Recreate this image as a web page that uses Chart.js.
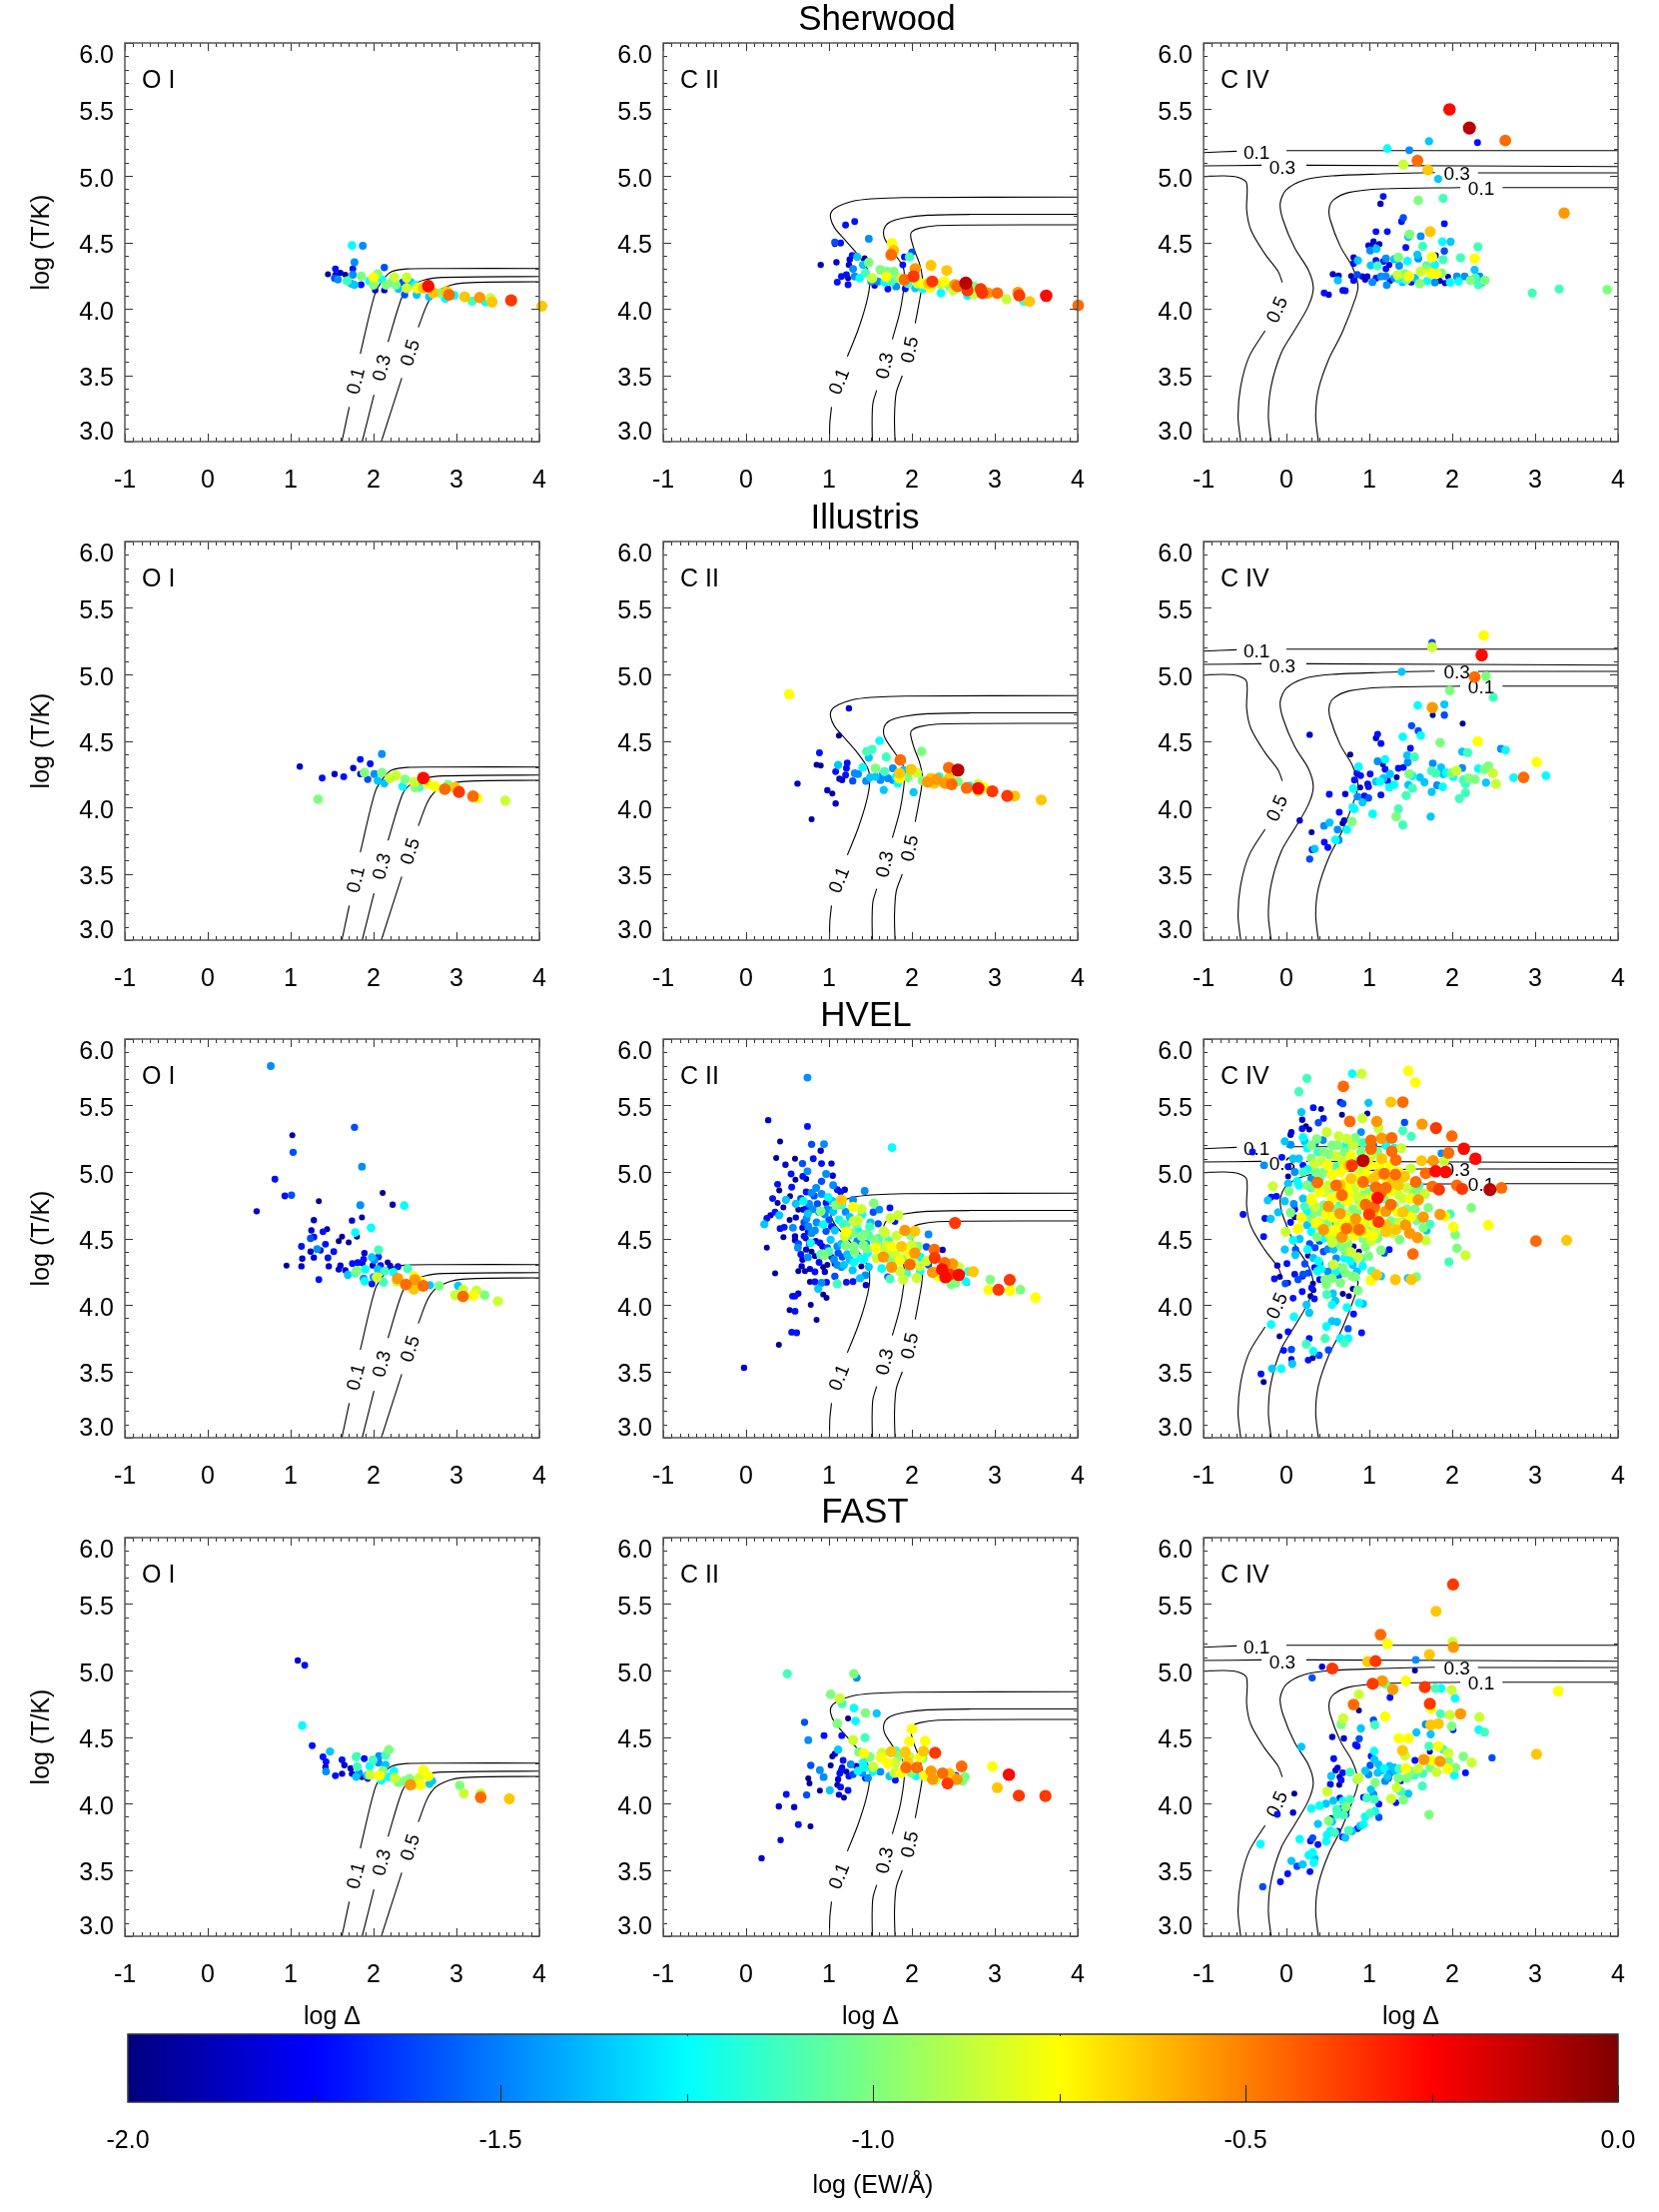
<!DOCTYPE html>
<html lang="en">
<head>
  <meta charset="UTF-8">
  <title>log T vs log overdensity</title>
  <script src="https://cdn.jsdelivr.net/npm/chart.js"></script>
<style>
  html, body { margin: 0; padding: 0; background: #fff; }
  #page { position: relative; width: 1661px; height: 2214px; overflow: hidden; font-family: 'Liberation Sans', Arial, sans-serif; color: #000; }
  canvas { position: absolute; }
  .rowTitle { position: absolute; font-size: 35px; line-height: 40px; transform: translate(-50%, -50%); white-space: nowrap; }
</style>
</head>
<body>
<div id="page"></div>
<script>
// colour classes (log EW)
const NV=-1.95,DB=-1.85,BL=-1.72,MB=-1.6,AZ=-1.47,SK=-1.36,CY=-1.25,MT=-1.12,LG=-1.0,YG=-.85,YE=-.75,GD=-.64,OR=-.55,DO=-.46,RO=-.36,RD=-.27,DR=-.12;

const rowNames = ['Sherwood','Illustris','HVEL','FAST'];
const rowTitleX = [878,866,867,866];
const rowTitleY = [18,517,1015,1512];
const ionNames = ['O I','C II','C IV'];
const xTicks = [-1,0,1,2,3,4];
const yLabelSpots = [3.1,3.5,4,4.5,5,5.5,5.93];
const yTickLabels = ['3.0','3.5','4.0','4.5','5.0','5.5','6.0'];
const barTicks = [-2,-1.5,-1,-.5,0];
const barMinor = [-1.75,-1.25,-.75,-.25];
// jet colour table of the bar: log EW, r, g, b
const jetStops = [[-2,0,0,127],[-1.75,0,0,255],[-1.5,0,127,255],[-1.25,0,255,255],[-1,127,255,127],[-.75,255,255,0],[-.5,255,127,0],[-.25,255,0,0],[0,127,0,0]];

// contours: each one is a list of line pieces, broken where the label sits
const contourOI = [
  [[[1.618,3],[1.707,3.26]],[[1.84,3.66],[2.02,4.118],[2.13,4.23],[2.22,4.28],[2.4,4.3],[2.84,4.303],[4,4.303]]],
  [[[1.863,3],[2.005,3.353]],[[2.175,3.75],[2.344,4.09],[2.44,4.168],[2.62,4.218],[2.84,4.236],[4,4.243]]],
  [[[2.094,3],[2.34,3.479]],[[2.54,3.86],[2.664,4.055],[2.798,4.143],[3.065,4.193],[4,4.203]]]
];
const contourLabelsOI = [['0.1',1.796,3.454,-76],['0.3',2.108,3.554,-76],['0.5',2.45,3.667,-73]];

const contourCII = [
  [[[1.006,3],[1.01,3.14],[1.03,3.26]],[[1.222,3.64],[1.35,3.84],[1.45,4.04],[1.49,4.18],[1.47,4.29],[1.33,4.42],[1.19,4.52],[1.07,4.606],[1.02,4.68],[1.03,4.73],[1.11,4.77],[1.27,4.807],[1.51,4.827],[1.91,4.837],[4,4.84]]],
  [[[1.523,3],[1.52,3.165],[1.53,3.29],[1.575,3.386]],[[1.764,3.77],[1.852,3.967],[1.9,4.143],[1.91,4.24],[1.892,4.318],[1.77,4.43],[1.67,4.53],[1.664,4.6],[1.73,4.65],[1.91,4.684],[2.19,4.704],[2.71,4.71],[4,4.71]]],
  [[[1.796,3],[1.79,3.19],[1.81,3.366],[1.884,3.496]],[[2.04,3.89],[2.09,4.055],[2.12,4.168],[2.125,4.243],[2.09,4.343],[2.03,4.44],[1.985,4.544],[2,4.58],[2.09,4.606],[2.31,4.626],[2.71,4.63],[4,4.632]]]
];
const contourLabelsCII = [['0.1',1.13,3.45,-68],['0.3',1.683,3.57,-78],['0.5',1.984,3.69,-78]];

const contourCIV = [
  [[[-1,5.175],[-.6,5.185]],[[.0,5.19],[4,5.19]]],
  [[[-1,5.075],[-.3,5.08]],[[.24,5.08],[4,5.07]]],
  [[[-.552,3],[-.584,3.19],[-.552,3.416],[-.45,3.64],[-.258,3.835]],[[-.05,4.198],[-.1,4.28],[-.266,4.418],[-.43,4.594],[-.48,4.744],[-.48,4.945],[-.575,4.987],[-.755,5],[-1,4.995]]],
  [[[-.185,3],[-.218,3.19],[-.185,3.416],[-.063,3.667],[.1,3.84],[.263,4.018],[.324,4.155],[.263,4.293],[.1,4.456],[-.042,4.669],[-.075,4.794],[-.002,4.895],[.222,4.97],[.548,5],[1.16,5.015],[1.79,5.025]],[[2.31,5.022],[4,5.022]]],
  [[[.385,3],[.353,3.19],[.385,3.39],[.508,3.617],[.67,3.817],[.84,4.093],[.862,4.18],[.793,4.318],[.65,4.469],[.528,4.669],[.516,4.757],[.57,4.82],[.752,4.875],[1.16,4.902],[2.097,4.912]],[[2.606,4.912],[4,4.912]]]
];
const contourLabelsCIV = [['0.1',-.36,5.17,0],['0.3',-.05,5.055,0],['0.5',-.103,3.99,-66],['0.3',2.056,5.007,0],['0.1',2.35,4.9,0]];

// points: log Delta, log T, log EW
const sherwoodOI = [[1.45,4.26,NV],[1.54,4.3,BL],[1.54,4.255,DB],[1.6,4.27,DB],[1.66,4.255,NV],[1.75,4.3,BL],[2.13,4.31,MB],[1.74,4.476,CY],[1.87,4.474,AZ],[1.77,4.35,AZ],[1.57,4.22,AZ],[1.53,4.23,MB],[1.68,4.21,MT],[1.75,4.256,AZ],[1.77,4.18,SK],[1.73,4.19,SK],[1.85,4.243,LG],[2,4.235,YE],[2.05,4.26,LG],[2,4.18,LG],[2.15,4.18,LG],[2.25,4.235,YG],[2.27,4.18,LG],[2.4,4.235,YG],[2.4,4.155,YG],[2.53,4.155,YE],[2.6,4.155,GD],[2.66,4.17,RD],[2.72,4.12,GD],[2.8,4.118,LG],[2.52,4.105,SK],[2.375,4.105,MB],[2.67,4.09,SK],[2.88,4.13,GD],[2.91,4.105,DO],[2.865,4.075,CY],[2.975,4.1,CY],[3.1,4.09,GD],[3.19,4.055,MT],[3.28,4.085,OR],[3.35,4.05,CY],[3.41,4.08,YG],[3.43,4.05,GD],[3.66,4.063,RO],[4.03,4.02,GD],[2.02,4.14,DB],[2.13,4.14,DB],[1.85,4.18,BL],[1.95,4.21,CY],[2.1,4.22,CY],[2.22,4.2,MT],[2.3,4.15,SK],[2.45,4.2,SK],[2.35,4.2,MB],[2.5,4.18,CY]];

const sherwoodCII = [[.9,4.33,DB],[1.2,4.63,BL],[1.31,4.656,BL],[1.07,4.486,NV],[1.07,4.5,MB],[1.14,4.494,BL],[1.09,4.35,DB],[1.28,4.4,BL],[1.25,4.37,DB],[1.24,4.33,DB],[1.43,4.38,NV],[1.48,4.526,AZ],[1.34,4.39,SK],[1.41,4.33,SK],[1.29,4.3,AZ],[1.21,4.256,BL],[1.15,4.243,BL],[1.23,4.23,NV],[1.1,4.2,BL],[1.23,4.18,BL],[1.31,4.243,AZ],[1.37,4.23,CY],[1.48,4.348,LG],[1.44,4.268,MT],[1.52,4.23,YG],[1.55,4.175,DB],[1.71,4.148,BL],[1.62,4.293,LG],[1.69,4.24,YE],[1.78,4.28,LG],[1.76,4.494,YE],[1.78,4.44,GD],[1.75,4.406,DO],[2,4.426,MB],[1.91,4.39,BL],[1.97,4.39,MT],[1.89,4.33,BL],[1.83,4.23,LG],[1.91,4.218,DO],[2.02,4.243,RO],[2.04,4.3,OR],[2.23,4.326,GD],[2.42,4.288,GD],[2.245,4.205,RO],[2.13,4.188,YE],[2.2,4.19,GD],[2.35,4.188,YG],[2.39,4.205,YE],[2.52,4.18,OR],[2.55,4.168,DO],[2.65,4.193,DR],[2.67,4.138,RO],[2.83,4.148,RO],[2.85,4.118,RO],[2.915,4.118,OR],[3.03,4.118,DO],[3.14,4.073,YG],[3.28,4.123,OR],[3.295,4.1,RO],[3.35,4.055,MT],[3.42,4.055,GD],[3.62,4.098,RD],[4.006,4.025,DO],[2.35,4.118,CY],[2.67,4.098,CY],[2.75,4.11,YG],[2.13,4.148,CY],[2.04,4.155,SK],[1.92,4.15,BL],[1.81,4.168,AZ],[1.67,4.198,CY],[1.59,4.205,AZ],[1.51,4.205,AZ],[1.95,4.19,MT],[1.75,4.205,MT],[1.87,4.23,YG],[2.07,4.19,YG],[2.22,4.16,YE],[2.45,4.17,LG],[2.5,4.14,YG],[2.75,4.17,LG],[1.7,4.28,LG]];

const sherwoodCIV = [[1.967,5.5,RD],[2.207,5.36,DR],[2.64,5.266,DO],[2.305,5.25,BL],[1.72,5.26,SK],[1.217,5.205,CY],[1.482,5.193,AZ],[1.58,5.115,DO],[1.41,5.085,YG],[1.706,5.045,GD],[1.83,4.977,SK],[1.168,4.845,BL],[1.135,4.79,DB],[1.59,4.815,LG],[1.89,4.83,MT],[3.35,4.72,OR],[1.41,4.684,MB],[1.388,4.656,BL],[1.905,4.64,BL],[1.08,4.58,BL],[1.217,4.58,BL],[1.486,4.56,LG],[1.47,4.54,SK],[1.62,4.546,AZ],[1.734,4.58,GD],[1.05,4.506,DB],[1.12,4.486,DB],[.99,4.476,DB],[1.02,4.47,DB],[1.01,4.438,AZ],[1.086,4.45,SK],[1.44,4.46,BL],[1.88,4.504,CY],[1.98,4.504,SK],[1.905,4.434,MB],[1.645,4.47,MT],[2.31,4.466,MT],[2.1,4.383,MT],[2.27,4.378,YE],[1.755,4.39,YE],[1.89,4.37,MT],[1.59,4.378,AZ],[1.58,4.406,SK],[1.46,4.358,CY],[1.35,4.386,LG],[1.3,4.373,SK],[1.2,4.378,AZ],[1.08,4.363,BL],[.81,4.386,DB],[.862,4.363,SK],[.81,4.34,BL],[1.017,4.326,SK],[1.1,4.323,MT],[1.168,4.356,BL],[1.24,4.33,DB],[1.2,4.3,BL],[1.79,4.33,CY],[1.69,4.323,MT],[1.8,4.4,DB],[1.36,4.323,AZ],[2.27,4.293,SK],[.56,4.26,DB],[.63,4.248,DB],[.62,4.213,SK],[.78,4.246,NV],[.81,4.213,BL],[.854,4.256,MB],[.915,4.243,DB],[.976,4.243,DB],[.95,4.22,DB],[1.037,4.2,AZ],[1.08,4.23,BL],[1.14,4.243,AZ],[1.21,4.178,AZ],[1.2,4.243,AZ],[1.343,4.253,YG],[1.424,4.263,LG],[1.478,4.243,YE],[1.36,4.22,CY],[1.506,4.2,BL],[1.62,4.28,YG],[1.608,4.19,LG],[1.74,4.268,YE],[1.81,4.263,YE],[1.873,4.268,LG],[1.79,4.198,AZ],[1.69,4.3,LG],[1.913,4.193,DB],[1.975,4.198,CY],[1.95,4.24,NV],[2.077,4.205,CY],[2.056,4.243,AZ],[2.15,4.243,AZ],[2.22,4.213,LG],[2.28,4.23,MT],[2.33,4.243,AZ],[2.313,4.18,MT],[2.36,4.198,SK],[2.394,4.213,LG],[.455,4.118,BL],[.51,4.105,DB],[.68,4.138,BL],[.71,4.135,BL],[2.965,4.118,MT],[3.29,4.148,MT],[3.87,4.143,LG],[1.55,4.23,SK],[1.4,4.2,SK],[1.25,4.21,DB],[1.3,4.23,AZ],[1.7,4.21,CY],[1.85,4.21,DB],[1.45,4.22,LG]];

const illustrisOI = [[1.11,4.306,DB],[1.38,4.22,BL],[1.53,4.25,DB],[1.64,4.23,BL],[1.33,4.06,LG],[1.755,4.295,DB],[1.84,4.25,DB],[2.1,4.4,AZ],[1.96,4.327,BL],[1.84,4.36,BL],[1.93,4.21,MB],[2.01,4.25,AZ],[1.89,4.26,LG],[2.1,4.26,LG],[2.27,4.24,YG],[2.38,4.21,LG],[2.49,4.19,YG],[2.6,4.22,RD],[2.74,4.157,YE],[2.86,4.136,DO],[3.03,4.115,RO],[2.98,4.15,GD],[3.2,4.083,DO],[3.25,4.07,YE],[3.59,4.05,YG],[2.13,4.18,SK],[2.35,4.157,CY],[2.2,4.22,YG],[2.05,4.2,SK],[2.5,4.15,LG],[2.65,4.18,YE],[2.55,4.15,MT],[2.9,4.17,LG]];

const illustrisCII = [[.52,4.85,YE],[1.24,4.744,DB],[1.12,4.54,NV],[.885,4.41,BL],[1.61,4.5,CY],[1.52,4.436,MT],[1.455,4.42,MT],[1.48,4.373,SK],[1.69,4.378,MT],[1.86,4.356,DO],[2.117,4.42,LG],[.85,4.32,NV],[.9,4.313,NV],[1.11,4.318,SK],[1.22,4.333,BL],[1.21,4.293,BL],[1.08,4.268,BL],[1.406,4.3,CY],[.62,4.178,DB],[1.126,4.215,DB],[1.158,4.205,DB],[1.2,4.243,BL],[1.286,4.198,MB],[.98,4.128,DB],[1.04,4.103,NV],[1.08,4.028,DB],[.79,3.91,NV],[1.56,4.293,LG],[1.67,4.268,MT],[1.66,4.13,SK],[2.02,4.113,SK],[1.77,4.293,AZ],[1.31,4.256,AZ],[1.35,4.25,AZ],[1.447,4.198,AZ],[1.495,4.225,SK],[1.56,4.23,SK],[1.62,4.205,AZ],[1.65,4.248,AZ],[1.71,4.218,AZ],[1.77,4.205,AZ],[1.83,4.18,CY],[1.81,4.23,CY],[1.85,4.256,GD],[1.85,4.218,YE],[1.95,4.225,LG],[1.99,4.286,GD],[2.06,4.26,YG],[2.125,4.2,LG],[2.19,4.19,OR],[2.23,4.218,GD],[2.27,4.18,GD],[2.33,4.23,CY],[2.345,4.193,LG],[2.3,4.21,OR],[2.4,4.18,OR],[2.445,4.298,DO],[2.555,4.28,DR],[2.45,4.168,MT],[2.48,4.173,DO],[2.45,4.218,GD],[2.555,4.193,LG],[2.66,4.145,DO],[2.7,4.16,CY],[2.8,4.175,YG],[2.8,4.143,RD],[2.8,4.125,GD],[2.87,4.15,YE],[2.97,4.12,RO],[3.15,4.085,RO],[3.24,4.085,GD],[3.56,4.055,GD],[1.9,4.28,SK]];

const illustrisCIV = [[2.38,5.293,YE],[1.757,5.24,MB],[1.757,5.205,YG],[2.355,5.145,RD],[1.39,5.02,SK],[2.27,4.98,DO],[2.407,4.985,LG],[1.97,4.877,LG],[2.495,4.827,MT],[1.905,4.774,SK],[1.584,4.767,CY],[1.76,4.75,OR],[1.765,4.694,NV],[1.905,4.694,MB],[2.126,4.63,NV],[1.51,4.614,MB],[1.59,4.576,MB],[1.62,4.54,CY],[1.404,4.53,CY],[1.1,4.55,BL],[1.08,4.52,DB],[1.14,4.48,BL],[.28,4.546,DB],[1.853,4.486,LG],[2.307,4.496,YE],[1.496,4.444,BL],[.77,4.396,NV],[2.12,4.418,SK],[2.186,4.411,MT],[2.587,4.44,AZ],[2.644,4.43,CY],[1.456,4.39,SK],[1.544,4.378,MT],[1.464,4.338,AZ],[1.1,4.346,AZ],[1.19,4.36,CY],[1.163,4.323,NV],[1.765,4.33,AZ],[.87,4.306,CY],[1.19,4.286,BL],[1.35,4.293,BL],[1.41,4.3,BL],[3.017,4.34,YE],[1.865,4.3,SK],[2.12,4.296,AZ],[2.315,4.29,CY],[2.435,4.31,LG],[2.387,4.286,LG],[2.05,4.276,YG],[1.99,4.256,LG],[2.49,4.256,YG],[.85,4.256,BL],[.895,4.238,BL],[1.01,4.25,BL],[1.25,4.25,SK],[1.48,4.25,LG],[1.52,4.236,CY],[1.61,4.225,SK],[1.75,4.273,MT],[1.8,4.256,MT],[1.89,4.25,SK],[1.93,4.26,CY],[2.01,4.23,CY],[1.33,4.225,NV],[1.17,4.218,SK],[.82,4.205,BL],[.89,4.148,NV],[.98,4.175,BL],[.99,4.155,BL],[1.08,4.193,SK],[1.13,4.193,CY],[1.22,4.2,BL],[1.24,4.15,CY],[1.3,4.17,CY],[1.47,4.168,SK],[1.52,4.143,MT],[1.665,4.188,SK],[1.753,4.115,SK],[1.817,4.165,AZ],[1.885,4.153,CY],[2.134,4.205,MT],[2.2,4.218,LG],[2.275,4.21,LG],[2.16,4.175,MT],[2.407,4.185,SK],[2.527,4.175,YG],[2.74,4.223,CY],[2.86,4.225,DO],[3.13,4.238,CY],[2.16,4.108,MT],[2.086,4.065,MT],[1.444,4.088,MT],[1.35,3.987,MT],[1.323,3.93,LG],[1.404,3.867,MT],[1.74,3.93,SK],[1.04,3.95,CY],[.517,4.098,BL],[.71,4.1,DB],[1.14,4.093,BL],[.806,4.14,CY],[.858,4.08,AZ],[.918,4.037,SK],[.99,4.07,MB],[.94,4.085,BL],[.8,4,CY],[.82,3.987,CY],[.637,3.962,BL],[.16,3.9,DB],[.697,3.9,DB],[.677,3.88,NV],[.79,3.892,LG],[.73,3.832,CY],[.617,3.832,AZ],[.52,3.885,SK],[.453,3.86,AZ],[.304,3.812,NV],[.457,3.737,BL],[.5,3.697,BL],[.59,3.754,CY],[.63,3.754,AZ],[.31,3.68,BL],[.34,3.687,SK],[.28,3.61,MB]];

const hvelOI = [[.76,5.797,AZ],[1.02,5.276,NV],[1.03,5.148,MB],[1.77,5.336,MB],[1.86,5.04,AZ],[.81,4.945,BL],[.93,4.82,BL],[1.01,4.825,MB],[.59,4.704,DB],[1.34,4.78,NV],[2.11,4.842,NV],[2.23,4.754,DB],[1.84,4.75,AZ],[2.37,4.747,CY],[1.28,4.637,DB],[1.25,4.56,DB],[1.74,4.634,DB],[1.86,4.657,NV],[1.97,4.58,CY],[1.39,4.55,BL],[1.44,4.57,NV],[1.78,4.544,CY],[1.8,4.514,NV],[1.62,4.514,NV],[1.58,4.48,NV],[1.7,4.47,NV],[1.24,4.5,MB],[1.28,4.51,BL],[1.42,4.456,BL],[1.13,4.44,BL],[1.52,4.4,BL],[1.24,4.4,DB],[1.32,4.42,AZ],[1.36,4.41,DB],[1.28,4.356,DB],[1.14,4.348,DB],[1.45,4.353,BL],[1.89,4.39,DB],[2.06,4.413,MT],[.95,4.296,NV],[1.13,4.29,DB],[1.46,4.29,DB],[1.6,4.296,DB],[1.58,4.266,DB],[1.66,4.26,DB],[1.34,4.19,BL],[1.745,4.31,BL],[1.81,4.318,BL],[1.88,4.343,BL],[1.865,4.313,DB],[1.98,4.358,SK],[2.01,4.338,AZ],[2.06,4.36,BL],[1.99,4.296,DB],[2.085,4.296,BL],[2.17,4.32,NV],[2.2,4.293,DB],[2.295,4.288,BL],[1.9,4.268,CY],[1.797,4.256,LG],[1.78,4.24,MT],[1.69,4.226,SK],[1.88,4.198,AZ],[1.893,4.178,CY],[1.98,4.158,BL],[2.12,4.17,MT],[2.04,4.208,YG],[2,4.21,AZ],[2.05,4.268,SK],[2.135,4.253,MT],[2.24,4.245,CY],[2.41,4.273,MT],[2.29,4.198,OR],[2.28,4.175,YG],[2.49,4.213,YE],[2.5,4.188,OR],[2.39,4.153,DO],[2.485,4.118,GD],[2.565,4.175,YE],[2.6,4.143,DO],[2.55,4.15,LG],[2.68,4.148,SK],[2.79,4.143,LG],[3.02,4.143,SK],[2.985,4.073,YG],[3.08,4.063,DO],[3.08,4.113,YG],[3.205,4.07,YE],[3.24,4.108,YG],[3.34,4.073,LG],[3.5,4.028,YG]];

const hvelCII = [[.74,5.71,AZ],[.267,5.39,DB],[.74,5.343,BL],[.41,5.23,NV],[.79,5.208,MB],[.94,5.21,AZ],[1.76,5.183,CY],[.9,5.16,DB],[.363,5.105,NV],[.59,5.1,NV],[.81,5.1,BL],[.475,5.055,DB],[.68,5.063,MB],[.91,5.063,BL],[1.03,5.063,DB],[.543,4.985,BL],[.74,5.005,AZ],[.684,4.967,BL],[.965,4.985,AZ],[1.045,4.972,DB],[.595,4.942,NV],[.725,4.947,NV],[.91,4.93,MB],[.38,4.907,BL],[.55,4.885,BL],[.4,4.86,NV],[1.05,4.9,AZ],[.845,4.88,AZ],[1.19,4.867,DB],[1.1,4.867,BL],[1.14,4.85,BL],[.725,4.85,BL],[.79,4.842,AZ],[.91,4.835,AZ],[1.43,4.857,AZ],[.32,4.8,BL],[.38,4.767,NV],[.48,4.79,SK],[.53,4.817,NV],[1.15,4.79,GD],[1.29,4.79,AZ],[.45,4.734,NV],[.6,4.76,SK],[.69,4.78,CY],[.99,4.81,CY],[.965,4.767,BL],[1.11,4.76,BL],[1.08,4.75,LG],[1.15,4.75,MT],[1.54,4.764,LG],[1.735,4.73,BL],[1.606,4.717,AZ],[1.534,4.697,MB],[.35,4.697,BL],[.295,4.674,DB],[.25,4.65,BL],[.22,4.606,SK],[.4,4.674,SK],[1.29,4.737,YE],[1.39,4.72,YG],[.63,4.717,NV],[.69,4.717,DB],[.9,4.704,LG],[.745,4.687,SK],[.525,4.64,NV],[.6,4.657,DB],[.73,4.65,AZ],[1.74,4.654,YG],[1.835,4.674,YG],[1.35,4.64,YG],[1.3,4.63,YG],[1.594,4.61,MB],[1.795,4.627,BL],[.41,4.574,BL],[.46,4.584,BL],[.565,4.58,AZ],[.75,4.59,AZ],[.83,4.56,AZ],[.93,4.604,CY],[1.03,4.59,BL],[1.17,4.61,MT],[1.33,4.61,LG],[1.49,4.586,MT],[1.66,4.553,YG],[1.21,4.55,YE],[1.915,4.56,OR],[2.035,4.554,GD],[2.2,4.53,AZ],[2.52,4.616,RO],[.45,4.51,NV],[.59,4.516,DB],[.7,4.516,BL],[.79,4.54,AZ],[.965,4.554,MB],[1.07,4.56,SK],[1.28,4.54,LG],[1.43,4.53,LG],[1.55,4.49,LG],[1.675,4.54,YG],[1.815,4.52,YG],[1.985,4.524,LG],[.59,4.486,DB],[.25,4.43,NV],[.63,4.46,MB],[.625,4.43,AZ],[.78,4.466,CY],[.89,4.466,BL],[1.02,4.49,SK],[1.19,4.516,YG],[1.39,4.516,LG],[1.2,4.446,LG],[1.295,4.44,LG],[1.415,4.45,LG],[1.565,4.43,YE],[1.695,4.446,YG],[1.755,4.44,YE],[1.875,4.44,GD],[1.915,4.416,YE],[2.075,4.44,LG],[2.175,4.436,MB],[2.27,4.416,DO],[2.37,4.414,DB],[.79,4.4,NV],[.725,4.416,DB],[.92,4.44,DB],[.83,4.366,NV],[.745,4.358,AZ],[.9,4.378,MT],[.94,4.373,LG],[1,4.4,MT],[1.11,4.39,MB],[1.03,4.36,DB],[1.31,4.396,LG],[1.25,4.34,SK],[1.465,4.39,CY],[1.575,4.353,YG],[1.655,4.36,OR],[1.755,4.386,LG],[1.855,4.336,YE],[1.975,4.303,DO],[2.035,4.39,OR],[1.975,4.38,YE],[2.095,4.29,YG],[2.175,4.33,YG],[2.275,4.353,RO],[2.395,4.316,DO],[2.49,4.308,OR],[.67,4.29,DB],[.63,4.253,NV],[.71,4.253,NV],[.77,4.27,DB],[.83,4.248,BL],[.93,4.283,NV],[.95,4.248,DB],[1.15,4.285,AZ],[1.07,4.31,DB],[1.285,4.26,SK],[1.39,4.29,NV],[1.48,4.285,SK],[1.635,4.273,CY],[1.755,4.283,OR],[1.855,4.253,YG],[1.935,4.24,MT],[2.25,4.245,OR],[2.32,4.215,YE],[2.365,4.266,RD],[2.455,4.228,RO],[2.405,4.208,RD],[2.565,4.285,YG],[2.565,4.226,RD],[2.68,4.25,MT],[2.74,4.25,GD],[.35,4.236,NV],[.77,4.173,NV],[.83,4.173,BL],[.91,4.165,AZ],[.97,4.17,BL],[1.07,4.215,MB],[1.21,4.17,BL],[1.29,4.175,BL],[1.375,4.2,SK],[1.44,4.223,AZ],[1.445,4.148,DB],[1.1,4.158,MT],[.87,4.12,SK],[1.735,4.195,MT],[1.71,4.21,MB],[1.895,4.19,YG],[2.06,4.203,YG],[2.475,4.153,LG],[2.525,4.165,LG],[2.65,4.175,CY],[2.66,4.17,BL],[2.945,4.19,LG],[2.925,4.113,YE],[3.045,4.113,RO],[3.18,4.188,RO],[3.185,4.108,YE],[3.31,4.113,LG],[3.49,4.055,YE],[.63,4.085,DB],[.56,4.065,BL],[.59,4.065,BL],[.93,4.078,NV],[.97,4.053,NV],[.78,4,NV],[.525,3.96,NV],[.59,3.952,BL],[.85,3.887,NV],[.55,3.794,BL],[.61,3.79,BL],[.395,3.7,NV],[-.025,3.526,DB],[.85,4.62,AZ],[.95,4.68,AZ],[.8,4.72,AZ],[.86,4.76,MB],[1.05,4.7,SK],[1.12,4.64,CY],[1.2,4.7,AZ],[1.25,4.66,SK],[1.35,4.56,CY],[1.45,4.46,AZ],[1.1,4.44,AZ],[1.3,4.4,AZ],[1.38,4.35,CY],[1.16,4.36,MB],[1.2,4.6,MT],[1.4,4.68,CY],[1.5,4.62,SK],[1.62,4.44,LG],[2,4.45,YG],[1.75,4.32,LG],[2.1,4.36,CY],[.7,4.62,MB],[.75,4.55,BL],[.68,4.58,DB],[.82,4.82,MB],[.76,4.76,AZ],[.88,4.7,AZ],[1,4.64,MB],[.98,4.72,AZ],[1.04,4.78,SK],[.72,4.72,BL],[.66,4.8,MB],[.76,4.46,DB],[.72,4.5,NV],[.84,4.48,DB],[.98,4.43,MB],[1.15,4.46,SK],[1.22,4.38,SK],[1.06,4.34,AZ],[1.1,4.3,AZ],[1.18,4.3,SK],[1.3,4.32,CY],[1.42,4.34,CY],[1.34,4.48,AZ],[1.24,4.52,CY],[1.48,4.52,MT],[1.6,4.5,MT],[1.72,4.48,MT],[1.46,4.42,LG],[1.68,4.4,YG],[1.8,4.38,YG],[1.9,4.34,MT],[2,4.34,YG],[2.1,4.25,CY],[2.2,4.3,MB],[.66,4.38,BL],[.68,4.34,DB],[.88,4.32,BL],[.98,4.3,NV]];

const hvelCIV = [[1.47,5.76,YE],[1.555,5.674,YE],[.907,5.74,YG],[.793,5.74,CY],[.247,5.704,MT],[.15,5.604,MT],[.687,5.644,DO],[1.26,5.526,GD],[1.404,5.526,DO],[.99,5.52,SK],[.65,5.524,BL],[.68,5.514,MB],[.324,5.484,BL],[.418,5.474,NV],[.18,5.45,SK],[.67,5.43,NV],[.976,5.44,NV],[.447,5.403,BL],[.19,5.393,DB],[.764,5.38,DO],[.915,5.403,YG],[1.09,5.38,OR],[1.425,5.373,MB],[1.636,5.36,OR],[1.804,5.33,RO],[1.995,5.27,DO],[.385,5.37,MB],[1.404,5.31,MT],[1.506,5.267,MT],[1.11,5.33,YG],[.487,5.3,YG],[.06,5.3,DB],[.19,5.326,BL],[.235,5.344,NV],[.275,5.32,NV],[.05,5.28,DB],[.9,5.3,AZ],[1.27,5.256,DO],[1.02,5.238,DO],[1.15,5.253,OR],[-.02,5.23,SK],[.05,5.205,AZ],[.2,5.26,CY],[.22,5.23,SK],[.365,5.248,LG],[.44,5.24,AZ],[.63,5.27,YG],[.73,5.25,YG],[.83,5.256,LG],[.82,5.21,LG],[2.14,5.175,RD],[1.385,5.18,YG],[1.02,5.173,DO],[2.28,5.1,RD],[1.955,5.143,DO],[-.41,5.15,BL],[1.87,5.14,AZ],[1.27,5.155,DO],[1.63,5.085,GD],[1.77,5.085,OR],[.925,5.085,DR],[1.32,5.09,DO],[.08,5.1,SK],[-.055,5.11,BL],[-.27,5.05,AZ],[.02,5.04,BL],[.337,5.063,YG],[.79,5.05,RO],[1.9,5.08,YG],[1.8,5.005,RD],[1.92,5,RD],[1.68,4.99,DO],[1.18,4.987,DO],[1.315,4.98,DO],[1.425,4.967,GD],[1.5,5.025,YG],[.02,4.967,NV],[.13,4.93,CY],[.02,4.912,SK],[-.165,4.892,YG],[.374,4.92,DO],[.6,4.9,DO],[.925,4.925,DO],[1.56,4.925,DO],[1.76,4.89,DO],[1.84,4.867,RO],[2.056,4.9,DO],[2.12,4.872,RO],[2.455,4.867,DR],[2.594,4.88,DO],[1.08,4.885,DO],[1.2,4.88,DO],[1.14,4.842,DO],[.67,4.825,DO],[1.1,4.805,RD],[.03,4.855,LG],[-.02,4.78,SK],[-.12,4.817,BL],[-.185,4.81,BL],[-.225,4.787,SK],[-.1,4.696,SK],[.088,4.76,AZ],[1.67,4.835,YG],[1.608,4.842,LG],[1.59,4.79,OR],[1.35,4.83,YG],[.955,4.754,DO],[1.06,4.737,DO],[1.26,4.754,DO],[2.23,4.73,LG],[.304,4.79,YE],[.75,4.78,YE],[.507,4.74,OR],[-.523,4.68,BL],[-.26,4.65,BL],[-.19,4.647,SK],[.05,4.694,LG],[.1,4.66,NV],[.18,4.656,YE],[.357,4.617,YE],[.646,4.687,OR],[.997,4.68,RO],[1.11,4.624,RO],[1.404,4.697,GD],[1.2,4.704,OR],[1.71,4.73,LG],[1.853,4.68,OR],[1.913,4.667,YE],[1.975,4.684,MT],[1.65,4.66,OR],[1.26,4.63,LG],[1.567,4.634,CY],[1.73,4.606,MT],[1.69,4.56,SK],[2.435,4.6,YE],[2.015,4.586,YE],[1.437,4.6,OR],[1.65,4.58,LG],[.724,4.574,DO],[.875,4.566,DO],[.834,4.647,OR],[.447,4.566,OR],[.55,4.54,LG],[.14,4.574,YE],[-.01,4.55,YG],[.08,4.486,CY],[.16,4.496,SK],[-.275,4.514,BL],[.67,4.51,OR],[.37,4.51,LG],[.55,4.47,YG],[1.2,4.55,GD],[1.32,4.566,GD],[1.365,4.49,LG],[1.486,4.54,OR],[1.58,4.506,OR],[1.68,4.486,YG],[2.036,4.526,LG],[3.01,4.48,DO],[3.38,4.486,GD],[-.02,4.416,SK],[.11,4.416,MB],[.108,4.376,SK],[.255,4.416,CY],[.345,4.43,MB],[.447,4.4,MB],[.57,4.416,SK],[.71,4.403,LG],[.77,4.4,YG],[.81,4.44,NV],[.875,4.4,NV],[.955,4.436,LG],[1.14,4.41,LG],[1.24,4.416,BL],[1.18,4.39,MB],[2.056,4.426,LG],[1.526,4.383,DO],[2.16,4.373,YG],[.99,4.366,LG],[.866,4.358,YG],[.324,4.353,SK],[.222,4.308,MB],[.26,4.37,NV],[.57,4.303,YG],[.385,4.33,CY],[.68,4.278,LG],[1.96,4.323,MT],[-.11,4.296,DB],[.006,4.31,BL],[.4,4.31,AZ],[.77,4.33,CY],[.92,4.29,CY],[.71,4.24,LG],[.55,4.21,MB],[.2,4.23,MB],[.1,4.23,BL],[.14,4.19,MB],[.194,4.216,BL],[.263,4.24,MB],[.373,4.253,CY],[.4,4.19,BL],[.467,4.19,LG],[.55,4.2,LG],[.63,4.22,MB],[.793,4.216,LG],[.83,4.21,LG],[1.03,4.253,MT],[1.09,4.225,GD],[1.017,4.185,YE],[1.14,4.216,SK],[1.315,4.19,GD],[1.465,4.2,SK],[1.506,4.19,GD],[1.567,4.21,LG],[-.145,4.195,BL],[-.08,4.21,NV],[-.014,4.16,MB],[.02,4.165,NV],[.32,4.16,NV],[.48,4.153,LG],[.65,4.165,LG],[.19,4.1,BL],[.304,4.128,BL],[.325,4.11,NV],[.8,4.12,NV],[.862,4.108,LG],[.487,4.078,MT],[.56,4.085,SK],[.68,4.083,NV],[.753,4.065,NV],[.29,4.065,NV],[.337,4.045,BL],[.08,4.05,BL],[.243,4,SK],[.55,4,CY],[.59,4.03,SK],[.875,4.015,CY],[.923,4.008,SK],[.73,3.98,CY],[.81,3.93,BL],[.275,3.94,SK],[.09,3.91,CY],[.55,3.877,SK],[.61,3.872,SK],[.483,3.837,CY],[-.185,3.852,CY],[.744,3.82,MB],[.907,3.79,BL],[.02,3.797,BL],[-.083,3.764,NV],[.275,3.747,BL],[.467,3.747,MT],[.65,3.747,CY],[.744,3.747,CY],[.7,3.714,MT],[.24,3.704,MT],[-.034,3.657,BL],[.06,3.664,MB],[.324,3.652,CY],[.507,3.66,MB],[.394,3.62,MB],[.317,3.6,NV],[.263,3.584,BL],[.06,3.59,DB],[.07,3.556,SK],[-.173,3.52,SK],[-.063,3.52,CY],[-.307,3.48,BL],[-.275,3.42,NV],
[.3,5.1,LG],[.35,5,LG],[.4,4.95,LG],[.45,5.15,LG],[.5,5.05,YE],[.55,5.2,LG],[.6,5.12,YG],[.65,5,YE],[.7,5.15,LG],[.75,5.05,GD],[.8,5.2,YG],[.85,4.95,YE],[.9,5.15,LG],[1,5.05,YE],[1.05,4.95,GD],[.25,4.9,LG],[.3,4.8,YG],[.4,4.85,YE],[.45,4.75,LG],[.5,4.9,YG],[.55,4.8,YE],[.6,4.72,LG],[.65,4.9,GD],[.7,4.78,YG],[.75,4.85,YE],[.8,4.72,LG],[.85,4.82,YG],[.9,4.75,YG],[.95,4.85,LG],[1,4.78,YE],[1.05,4.7,GD],[1.1,4.85,YG],[1.15,4.7,YE],[1.25,4.85,YE],[1.3,4.75,LG],[1.35,4.9,GD],[1.4,4.8,YG],[1.45,4.72,LG],[.3,4.65,LG],[.35,4.7,LG],[.4,4.62,YG],[.5,4.62,LG],[.55,4.55,YE],[.62,4.6,YG],[.7,4.62,YE],[.78,4.58,GD],[.85,4.7,LG],[.95,4.62,YG],[1,4.55,LG],[1.05,4.62,YE],[1.12,4.55,LG],[1.2,4.6,GD],[.6,4.48,LG],[.7,4.5,YG],[.82,4.52,YE],[.92,4.5,LG],[1.02,4.48,YG],[1.1,4.5,LG],[1.15,5.1,GD],[1.25,5.05,YE],[1.35,5,YE],[1.1,5.15,LG],[.95,5.05,YG],[.85,5.08,LG],[.7,5.03,YE],[.55,4.98,YE],[.45,5,LG],[.2,5,MT],[1.45,4.88,YG],[1.5,4.8,YE],[1.55,4.72,LG],[1.1,4.98,GD],[.92,4.9,YE],[.78,4.95,GD],
[.1,5,AZ],[.15,5.1,SK],[.2,5.05,BL],[.25,5.18,CY],[.3,4.95,AZ],[.2,4.8,SK],[.25,4.7,CY],[.35,5.22,MB],[.15,4.9,CY],[.18,4.65,AZ],[.1,4.72,BL],[.05,4.62,BL],[.3,4.55,CY],[.4,4.48,MB],[.25,4.6,SK],[.5,4.42,AZ],[.45,4.5,CY],[.6,4.35,AZ],[.7,4.35,CY],[.8,4.3,SK],[.85,4.25,SK],[.9,4.35,CY],[.55,4.3,SK],[.6,4.25,CY],[.65,4.28,SK],[.42,4.27,CY],[.5,4.25,AZ],[.28,4.46,MB],[.34,4.28,BL],[1.05,5.2,AZ],[1.2,5.2,CY],[1.3,5.18,CY],[.6,5.2,AZ],
[.42,5.08,YG],[.52,5.13,LG],[.62,5.2,LG],[.68,5.08,YG],[.78,5.12,YE],[.88,5,YG],[.96,4.98,YE],[1.02,5.12,YG],[1.12,5.05,YE],[1.2,4.95,YE],[1.28,4.92,GD],[1.4,4.95,LG],[.35,4.88,LG],[.46,4.85,YG],[.56,4.88,LG],[.62,4.82,YE],[.72,4.92,YE],[.82,4.88,YG],[.88,4.78,LG],[.96,4.8,YG],[1.06,4.82,YE],[1.18,4.8,LG],[1.22,4.72,YG],[1.34,4.7,YE],[1.42,4.62,LG],[1.5,4.66,YE],[.34,4.74,YG],[.42,4.7,LG],[.48,4.68,YE],[.56,4.66,YE],[.66,4.7,LG],[.72,4.68,YG],[.78,4.64,YE],[.9,4.62,YE],[.98,4.7,YG],[1.08,4.56,YG],[1.16,4.6,LG],[1.28,4.54,YG],[1.36,4.62,YG],[.44,4.58,LG],[.52,4.52,YG],[.6,4.56,YE],[.66,4.44,LG],[.74,4.46,LG],[.84,4.6,LG],[.9,4.56,GD],[.96,4.54,YE],[1.04,4.52,YE],[.6,5.04,MT],[.72,5.2,CY],[.92,5.22,MT],[1,5.2,CY],[.38,5.15,MT],[.26,5.02,CY],[.3,4.88,MT],[.22,4.74,MT],[.36,4.6,MT],[.5,4.7,CY],[.65,4.75,MT],[.9,5.02,MT],[1.05,4.88,MT],[1.3,4.62,CY],[.3,5.2,LG],[1.45,4.6,LG],[1.58,4.64,LG],[1.52,4.86,LG],[1.6,4.9,MT]];

const fastOI = [[1.086,5.075,DB],[1.17,5.04,BL],[1.14,4.586,CY],[1.26,4.434,BL],[1.475,4.39,SK],[1.39,4.35,BL],[1.427,4.313,BL],[1.42,4.273,DB],[1.427,4.24,AZ],[1.62,4.328,BL],[1.648,4.288,DB],[1.54,4.208,BL],[1.62,4.223,DB],[1.724,4.263,DB],[1.74,4.223,DB],[1.79,4.35,MT],[1.8,4.36,NV],[1.888,4.336,BL],[1.804,4.276,MT],[1.824,4.23,AZ],[1.79,4.2,SK],[1.86,4.198,NV],[1.93,4.188,BL],[1.953,4.28,CY],[1.993,4.326,MT],[2.065,4.356,AZ],[2.145,4.363,MT],[2.185,4.403,LG],[2.06,4.306,AZ],[2.145,4.29,SK],[1.96,4.215,YG],[1.92,4.21,SK],[2.073,4.21,YE],[2.113,4.243,LG],[2.093,4.173,CY],[2.246,4.243,CY],[2.185,4.198,CY],[2.257,4.193,YG],[2.298,4.16,LG],[2.374,4.168,LG],[2.434,4.185,LG],[2.446,4.14,OR],[2.547,4.19,YG],[2.6,4.25,YE],[2.66,4.205,YE],[2.563,4.14,YE],[2.675,4.148,SK],[2.707,4.168,SK],[3.04,4.135,LG],[3.09,4.075,YG],[3.293,4.075,YG],[3.293,4.045,DO],[3.638,4.035,GD]];

const fastCII = [[.496,4.975,MT],[1.3,4.975,LG],[1.334,4.945,AZ],[1.02,4.82,LG],[1.13,4.79,YG],[1.158,4.75,MT],[1.3,4.717,CY],[1.44,4.68,LG],[1.575,4.677,SK],[1.23,4.64,NV],[1.32,4.62,CY],[1.1,4.6,LG],[.705,4.61,MB],[2,4.56,YE],[.75,4.476,AZ],[.94,4.51,BL],[1.154,4.51,BL],[1.29,4.476,YG],[1.435,4.494,MT],[1.97,4.466,YE],[2.16,4.47,YE],[1.11,4.404,SK],[1.07,4.373,DB],[1.04,4.353,NV],[2.14,4.393,GD],[2.28,4.38,RO],[1.36,4.386,LG],[1.42,4.376,YE],[1.49,4.35,LG],[1.64,4.38,YG],[1.63,4.343,YE],[1.75,4.388,GD],[1.81,4.393,MT],[1.92,4.386,GD],[1.97,4.35,YG],[1.84,4.356,LG],[2.1,4.348,YE],[2.13,4.34,LG],[1.17,4.323,BL],[.78,4.286,MB],[1.02,4.286,NV],[1.262,4.293,AZ],[1.41,4.306,CY],[.89,4.25,AZ],[1.158,4.27,DB],[1.33,4.28,DB],[1.43,4.27,CY],[1.535,4.276,YG],[1.71,4.3,YE],[1.8,4.306,YG],[1.95,4.31,GD],[1.93,4.27,DO],[2.06,4.27,DO],[2.6,4.278,DO],[2.97,4.278,YE],[3.17,4.216,RD],[.75,4.188,NV],[.765,4.15,NV],[.935,4.198,AZ],[1.13,4.226,BL],[1.15,4.25,BL],[1.21,4.238,NV],[1.24,4.205,BL],[1.29,4.218,MB],[1.11,4.18,DB],[1.1,4.14,NV],[1.14,4.123,BL],[1.35,4.243,CY],[1.4,4.23,AZ],[1.47,4.19,AZ],[1.44,4.19,BL],[1.53,4.238,CY],[1.62,4.238,AZ],[1.73,4.205,SK],[1.79,4.23,YG],[1.8,4.175,BL],[1.87,4.23,YE],[1.99,4.23,LG],[2.05,4.205,CY],[2.15,4.21,YE],[2.17,4.2,SK],[2.23,4.243,OR],[2.25,4.18,OR],[2.29,4.18,YG],[2.37,4.226,DO],[2.45,4.226,GD],[2.49,4.193,GD],[2.43,4.15,RO],[2.53,4.21,MB],[2.545,4.18,OR],[2.61,4.168,LG],[2.64,4.2,LG],[.89,4.095,NV],[1.01,4.098,SK],[.73,4.063,MB],[.485,4.068,BL],[1.12,4.065,DB],[1.18,4.043,NV],[1.23,4.098,BL],[.395,3.977,DB],[.58,3.972,DB],[.63,3.84,BL],[.777,3.827,NV],[.416,3.724,DB],[.187,3.587,DB],[3.03,4.118,GD],[3.29,4.058,RO],[3.61,4.055,RO]];

const fastCIV = [[2.01,5.647,RO],[1.805,5.446,GD],[1.135,5.27,DO],[1.22,5.2,YE],[2.005,5.216,YG],[2.014,5.175,OR],[1.725,5.12,GD],[1.56,5.08,AZ],[.98,5.067,GD],[1.075,5.07,RO],[.43,5.028,DB],[.553,5.015,RO],[1.55,5,NV],[.31,4.945,MB],[1.04,4.9,RO],[1.155,4.922,OR],[1.19,4.9,LG],[1.44,4.922,YE],[1.67,4.875,RO],[1.283,4.857,OR],[1.797,4.865,MT],[1.865,4.865,CY],[1.993,4.855,YG],[3.278,4.845,YE],[.874,4.82,YG],[1.25,4.797,BL],[2.034,4.79,CY],[.81,4.744,DO],[1.73,4.75,RO],[1.745,4.714,YE],[.874,4.7,NV],[1.857,4.674,MT],[.685,4.64,YG],[1.19,4.654,YE],[1.973,4.664,YG],[2.1,4.674,OR],[2.327,4.65,YG],[1.05,4.627,MB],[.66,4.594,LG],[1.067,4.59,MT],[1.68,4.594,AZ],[1.74,4.59,GD],[1.833,4.6,GD],[1.993,4.58,LG],[2.01,4.555,BL],[.898,4.564,SK],[1.568,4.534,SK],[1.74,4.52,SK],[2.32,4.554,CY],[2.39,4.536,MT],[.553,4.5,DB],[.693,4.489,DB],[.878,4.486,MB],[1.355,4.49,YE],[1.47,4.489,YE],[.18,4.426,SK],[.834,4.44,BL],[.854,4.43,BL],[1.72,4.43,MT],[1.83,4.43,YE],[1.73,4.39,NV],[1.058,4.393,CY],[1.4,4.398,GD],[1.43,4.36,YG],[1.89,4.406,MT],[1.953,4.378,YG],[2.134,4.353,LG],[2.234,4.308,YG],[2.48,4.343,MB],[3.017,4.37,GD],[1.022,4.356,BL],[1.06,4.33,SK],[.57,4.336,BL],[1.657,4.33,OR],[1.76,4.323,YE],[1.853,4.316,OR],[1.55,4.323,BL],[1.953,4.318,LG],[.617,4.268,DB],[.593,4.248,DB],[.678,4.23,BL],[.64,4.2,NV],[.54,4.205,SK],[.66,4.175,BL],[.53,4.143,BL],[.637,4.14,NV],[.766,4.235,MT],[1.01,4.286,MB],[.95,4.245,SK],[1.11,4.293,SK],[1.18,4.263,CY],[1.243,4.28,SK],[1.31,4.243,SK],[1.44,4.263,YE],[1.59,4.263,YG],[1.733,4.268,LG],[1.945,4.26,YE],[2.04,4.268,LG],[2.16,4.23,BL],[1.81,4.236,YG],[1.645,4.225,MT],[1.544,4.213,MT],[1.35,4.19,LG],[1.45,4.19,LG],[2.026,4.21,CY],[.854,4.18,LG],[.87,4.19,YG],[.99,4.218,AZ],[1.07,4.155,LG],[1.19,4.168,AZ],[1.23,4.19,MB],[1.38,4.17,BL],[.49,4.09,YG],[1.33,4.12,YG],[1.64,4.13,MT],[1.02,4.105,SK],[1.05,4.068,AZ],[1.38,4.09,MT],[1.47,4.073,SK],[.645,4.04,BL],[.93,4.045,BL],[.97,4.04,MT],[1.06,4.03,MT],[1.263,4.035,YG],[1.41,4.025,LG],[1.32,4.005,BL],[1.115,3.995,BL],[.565,4.02,SK],[.477,3.997,SK],[.4,3.982,CY],[.3,3.962,CY],[.766,4.03,MT],[.68,4.018,CY],[.605,3.955,MT],[.718,3.975,LG],[.67,3.96,BL],[.61,3.917,MT],[.69,3.912,MT],[.66,3.95,AZ],[.718,3.915,BL],[.095,4.073,NV],[.08,3.93,DB],[-.11,3.917,BL],[1.72,3.915,LG],[1.07,3.94,CY],[1.01,3.925,MT],[.95,3.9,CY],[1.115,3.895,MB],[.54,3.89,NV],[.51,3.867,LG],[.55,3.862,SK],[.38,3.845,SK],[.93,3.842,CY],[.89,3.83,SK],[.858,3.81,BL],[.75,3.797,MT],[.79,3.79,SK],[.53,3.792,CY],[.617,3.79,BL],[.58,3.78,MT],[.49,3.762,CY],[.71,3.742,SK],[.677,3.747,BL],[.48,3.714,CY],[.316,3.74,MB],[.29,3.717,BL],[.16,3.73,CY],[.38,3.69,BL],[-.314,3.694,CY],[.316,3.63,CY],[.27,3.61,CY],[.34,3.586,SK],[.33,3.554,CY],[.06,3.567,SK],[.196,3.54,SK],[.128,3.526,MB],[.284,3.486,BL],[.015,3.47,BL],[-.073,3.41,BL],[-.286,3.373,MB],[1.1,4.23,SK],[1.15,4.25,SK],[1.3,4.27,SK],[1.22,4.2,SK],[1.5,4.24,LG],[1.36,4.26,MT],[1.25,4.23,AZ]];

const panelData = [
  [sherwoodOI,sherwoodCII,sherwoodCIV],
  [illustrisOI,illustrisCII,illustrisCIV],
  [hvelOI,hvelCII,hvelCIV],
  [fastOI,fastCII,fastCIV]
];
const contours = [contourOI,contourCII,contourCIV];
const contourLabels = [contourLabelsOI,contourLabelsCII,contourLabelsCIV];

function jet(c){
  for(let i=1;i<jetStops.length;i++){
    if(c<=jetStops[i][0]){
      const a=jetStops[i-1],b=jetStops[i],t=(c-a[0])/(b[0]-a[0]);
      return `rgb(${Math.round(a[1]+t*(b[1]-a[1]))},${Math.round(a[2]+t*(b[2]-a[2]))},${Math.round(a[3]+t*(b[3]-a[3]))})`;
    }
  }
  return 'rgb(127,0,0)';
}
function dotSize(c){ return 2.9+1.95*(c+2); }
function noOverflow(s){ s.paddingTop=0; s.paddingBottom=0; s.paddingLeft=0; s.paddingRight=0; }

const FONT="'Liberation Sans', Arial, sans-serif";
const colLeft=[125,664,1205], rowTop=[43,542,1040,1539], panelW=415, panelH=399;
const padL=120,padR=30,padT=15,padB=60;
const page=document.getElementById('page');

// inward ticks on all four sides, the frame, contour labels and ion name
const panelFrame={
  id:'panelFrame',
  beforeDatasetsDraw(chart,args,opts){
    const c=chart.ctx,xs=chart.scales.x,ys=chart.scales.y;
    c.save();
    c.fillStyle='#000';
    c.textAlign='center'; c.textBaseline='middle';
    c.font=`19px ${FONT}`;
    opts.labels.forEach(l=>{
      c.save();
      c.translate(xs.getPixelForValue(l[1]),ys.getPixelForValue(l[2]));
      c.rotate(l[3]*Math.PI/180);
      c.fillText(l[0],0,0);
      c.restore();
    });
    c.restore();
  },
  afterDraw(chart,args,opts){
    const c=chart.ctx,a=chart.chartArea,xs=chart.scales.x,ys=chart.scales.y;
    c.save();
    c.strokeStyle='#333'; c.lineWidth=1;
    c.beginPath();
    for(let i=-10;i<=40;i++){
      const v=i/10, major=i%10===0, len=major?8:4, p=Math.round(xs.getPixelForValue(v))+.5;
      c.moveTo(p,a.bottom); c.lineTo(p,a.bottom-len);
      c.moveTo(p,a.top); c.lineTo(p,a.top+len);
    }
    for(let i=30;i<=60;i++){
      const v=i/10, major=i%5===0, len=major?8:4, p=Math.round(ys.getPixelForValue(v))+.5;
      c.moveTo(a.left,p); c.lineTo(a.left+len,p);
      c.moveTo(a.right,p); c.lineTo(a.right-len,p);
    }
    c.stroke();
    c.strokeStyle='#555'; c.lineWidth=1.5;
    c.strokeRect(a.left,a.top,a.right-a.left,a.bottom-a.top);
    c.fillStyle='#000'; c.font=`25px ${FONT}`; c.textAlign='left'; c.textBaseline='middle';
    c.fillText(opts.ion,a.left+17,a.top+38);
    c.restore();
  }
};

function makePanel(row,col){
  const bottomRow=row===3, extraB=bottomRow?40:0;
  const cv=document.createElement('canvas');
  const w=padL+panelW+padR, h=padT+panelH+padB+extraB;
  cv.width=w; cv.height=h;
  cv.style.left=(colLeft[col]-padL)+'px';
  cv.style.top=(rowTop[row]-padT)+'px';
  cv.style.width=w+'px'; cv.style.height=h+'px';
  page.appendChild(cv);
  const pts=[...panelData[row][col]].sort((a,b)=>a[2]-b[2]);
  const datasets=[{
    data:pts.map(p=>({x:p[0],y:p[1]})),
    pointBackgroundColor:pts.map(p=>jet(p[2])),
    pointRadius:pts.map(p=>dotSize(p[2])),
    pointBorderWidth:0,
    showLine:false,
    clip:false
  }];
  contours[col].forEach(line=>line.forEach(seg=>{
    datasets.push({
      data:seg.map(p=>({x:p[0],y:p[1]})),
      showLine:true,borderColor:'#000',borderWidth:1.1,pointRadius:0,tension:.3,fill:false
    });
  }));
  new Chart(cv,{
    type:'scatter',
    data:{datasets},
    plugins:[panelFrame],
    options:{
      responsive:false,animation:false,devicePixelRatio:1,
      layout:{padding:{top:padT,right:padR,left:0,bottom:0}},
      plugins:{legend:{display:false},tooltip:{enabled:false},
        panelFrame:{ion:ionNames[col],labels:contourLabels[col]}},
      scales:{
        x:{type:'linear',min:-1,max:4,
          afterBuildTicks(s){ s.ticks=xTicks.map(v=>({value:v})); },
          afterFit(s){ s.height=padB+extraB; noOverflow(s); },
          grid:{display:false},border:{display:false},
          title:{display:bottomRow,text:'log Δ',color:'#000',font:{family:FONT,size:25},padding:{bottom:4,top:0}},
          ticks:{color:'#000',font:{family:FONT,size:25},padding:16,autoSkip:false,maxRotation:0,callback:v=>String(v)}
        },
        y:{type:'linear',min:3,max:6,
          afterBuildTicks(s){ s.ticks=yLabelSpots.map(v=>({value:v})); },
          afterFit(s){ s.width=padL; noOverflow(s); },
          grid:{display:false},border:{display:false},
          title:{display:col===0,text:'log (T/K)',color:'#000',font:{family:FONT,size:25},padding:{top:22,bottom:0}},
          ticks:{color:'#000',font:{family:FONT,size:25},padding:3,labelOffset:4,autoSkip:false,
            callback:(v,i)=>yTickLabels[i]}
        }
      }
    }
  });
}

for(let r=0;r<4;r++){
  for(let c=0;c<3;c++) makePanel(r,c);
  const t=document.createElement('div');
  t.className='rowTitle'; t.textContent=rowNames[r];
  t.style.left=rowTitleX[r]+'px'; t.style.top=rowTitleY[r]+'px';
  page.appendChild(t);
}

// colour bar: one floating bar from -2 to 0 filled with the jet table
const barFrame={
  id:'barFrame',
  afterDraw(chart){
    const c=chart.ctx,a=chart.chartArea,xs=chart.scales.x;
    c.save();
    c.strokeStyle='#222'; c.lineWidth=1;
    c.beginPath();
    barTicks.forEach(v=>{ const p=Math.round(xs.getPixelForValue(v))+.5; c.moveTo(p,a.bottom); c.lineTo(p,a.bottom-17); });
    barMinor.forEach(v=>{ const p=Math.round(xs.getPixelForValue(v))+.5; c.moveTo(p,a.bottom); c.lineTo(p,a.bottom-8); c.moveTo(p,a.top); c.lineTo(p,a.top+2); });
    c.stroke();
    c.strokeStyle='#333'; c.lineWidth=1.5;
    c.strokeRect(a.left,a.top,a.right-a.left,a.bottom-a.top);
    c.restore();
  }
};
(function(){
  const cv=document.createElement('canvas');
  const left=68,top=2020,w=1612,h=194;
  cv.width=w; cv.height=h;
  cv.style.left=left+'px'; cv.style.top=top+'px'; cv.style.width=w+'px'; cv.style.height=h+'px';
  page.appendChild(cv);
  new Chart(cv,{
    type:'bar',
    data:{labels:['log EW'],datasets:[{
      data:[[-2,0]],
      barPercentage:1,categoryPercentage:1,borderSkipped:false,borderWidth:0,
      backgroundColor(ctx){
        const area=ctx.chart.chartArea;
        if(!area) return '#888';
        const g=ctx.chart.ctx.createLinearGradient(area.left,0,area.right,0);
        jetStops.forEach(s=>g.addColorStop((s[0]+2)/2,`rgb(${s[1]},${s[2]},${s[3]})`));
        return g;
      }
    }]},
    plugins:[barFrame],
    options:{
      indexAxis:'y',responsive:false,animation:false,devicePixelRatio:1,
      layout:{padding:{top:16,left:60,right:60,bottom:0}},
      plugins:{legend:{display:false},tooltip:{enabled:false}},
      scales:{
        y:{display:false},
        x:{type:'linear',min:-2,max:0,
          afterBuildTicks(s){ s.ticks=barTicks.map(v=>({value:v})); },
          afterFit(s){ s.height=110; noOverflow(s); },
          grid:{display:false},border:{display:false},
          title:{display:true,text:'log (EW/Å)',color:'#000',font:{family:FONT,size:25},padding:{bottom:11,top:0}},
          ticks:{color:'#000',font:{family:FONT,size:25},padding:16,autoSkip:false,maxRotation:0,callback:v=>v.toFixed(1)}
        }
      }
    }
  });
})();
</script>
</body>
</html>
